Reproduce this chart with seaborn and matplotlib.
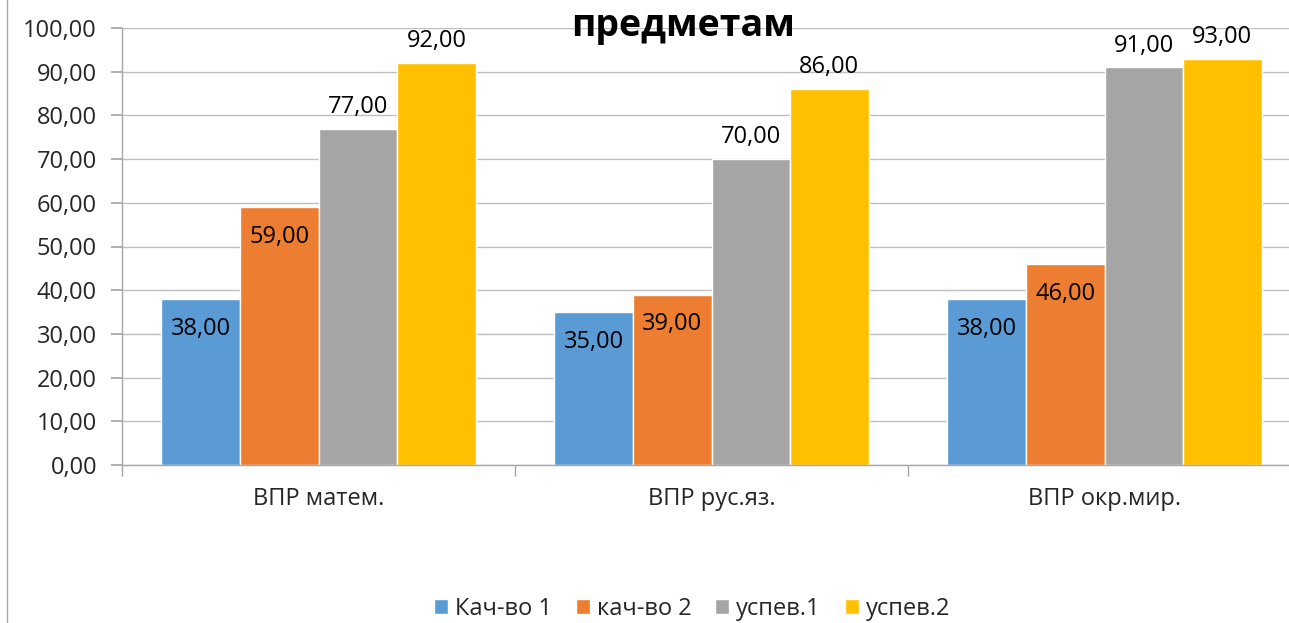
import pandas as pd
import matplotlib.pyplot as plt
import seaborn as sns
from matplotlib.lines import Line2D
from matplotlib.patches import Patch

# Данные с диаграммы
predmety = ['ВПР матем.', 'ВПР рус.яз.', 'ВПР окр.мир.']
serii = ['Кач-во 1', 'кач-во 2', 'успев.1', 'успев.2']
kach1 = [38, 35, 38]
kach2 = [59, 39, 46]
usp1 = [77, 70, 91]
usp2 = [92, 86, 93]
yticks = [0, 10, 20, 30, 40, 50, 60, 70, 80, 90, 100]
cveta = ['#5B9BD5', '#ED7D31', '#A5A5A5', '#FFC000']

rows = []
for name, vals in zip(serii, [kach1, kach2, usp1, usp2]):
    for p, v in zip(predmety, vals):
        rows.append({'Предмет': p, 'Серия': name, 'Значение': v})
df = pd.DataFrame(rows)

sns.set_theme(style='white')
plt.rcParams['font.family'] = ['Open Sans', 'DejaVu Sans']

fs = 17
fig = plt.figure(figsize=(12.89, 6.23), dpi=100)
ax = fig.add_axes([122 / 1289, 158 / 623, 1179 / 1289, 437 / 623])
sns.barplot(data=df, x='Предмет', y='Значение', hue='Серия', hue_order=serii,
            palette=cveta, width=0.8, saturation=1, ax=ax, legend=False)

# подписи значений
for i, cont in enumerate(ax.containers):
    labels = [f'{b.get_height():.2f}'.replace('.', ',') for b in cont]
    if i < 2:
        ax.bar_label(cont, labels=labels, padding=-30, fontsize=fs, color='black')
    else:
        ax.bar_label(cont, labels=labels, padding=7, fontsize=fs, color='black')

ax.set_xlim(-0.5, 2.5)
ax.set_ylim(0, 100)
ax.set_yticks(yticks)
ax.set_yticklabels([f'{t:.2f}'.replace('.', ',') for t in yticks], fontsize=fs)
ax.yaxis.grid(True, color='#BFBFBF', linewidth=1)
ax.set_axisbelow(True)
ax.set_xlabel('')
ax.set_ylabel('')
ax.tick_params(axis='x', which='major', length=0, pad=16, labelsize=fs)
ax.set_xticks([-0.5, 0.5, 1.5, 2.5], minor=True)
ax.tick_params(axis='x', which='minor', length=8, color='#A6A6A6', direction='out', bottom=True)
ax.tick_params(axis='y', length=8, color='#A6A6A6', direction='out', left=True, pad=10)
for s in ['top', 'right']:
    ax.spines[s].set_visible(False)
for s in ['left', 'bottom']:
    ax.spines[s].set_color('#A6A6A6')
    ax.spines[s].set_linewidth(1)

# заголовок (обрезан сверху)
fig.text(683 / 1289, 1 - 26 / 623, 'предметам', ha='center', va='center',
         fontsize=27, fontweight='bold', color='black')

# рамка слева
fig.add_artist(Line2D([7 / 1289, 7 / 1289], [0, 1], transform=fig.transFigure,
                      color='#A6A6A6', linewidth=1))

handles = [Patch(facecolor=c, label=s) for c, s in zip(cveta, serii)]
fig.legend(handles=handles, loc='center', bbox_to_anchor=(692 / 1289, 1 - 609 / 623),
           ncol=4, frameon=False, fontsize=fs, handlelength=0.6, handleheight=0.6,
           handletextpad=0.3, columnspacing=1.0)

fig.savefig('out.png', dpi=100)
